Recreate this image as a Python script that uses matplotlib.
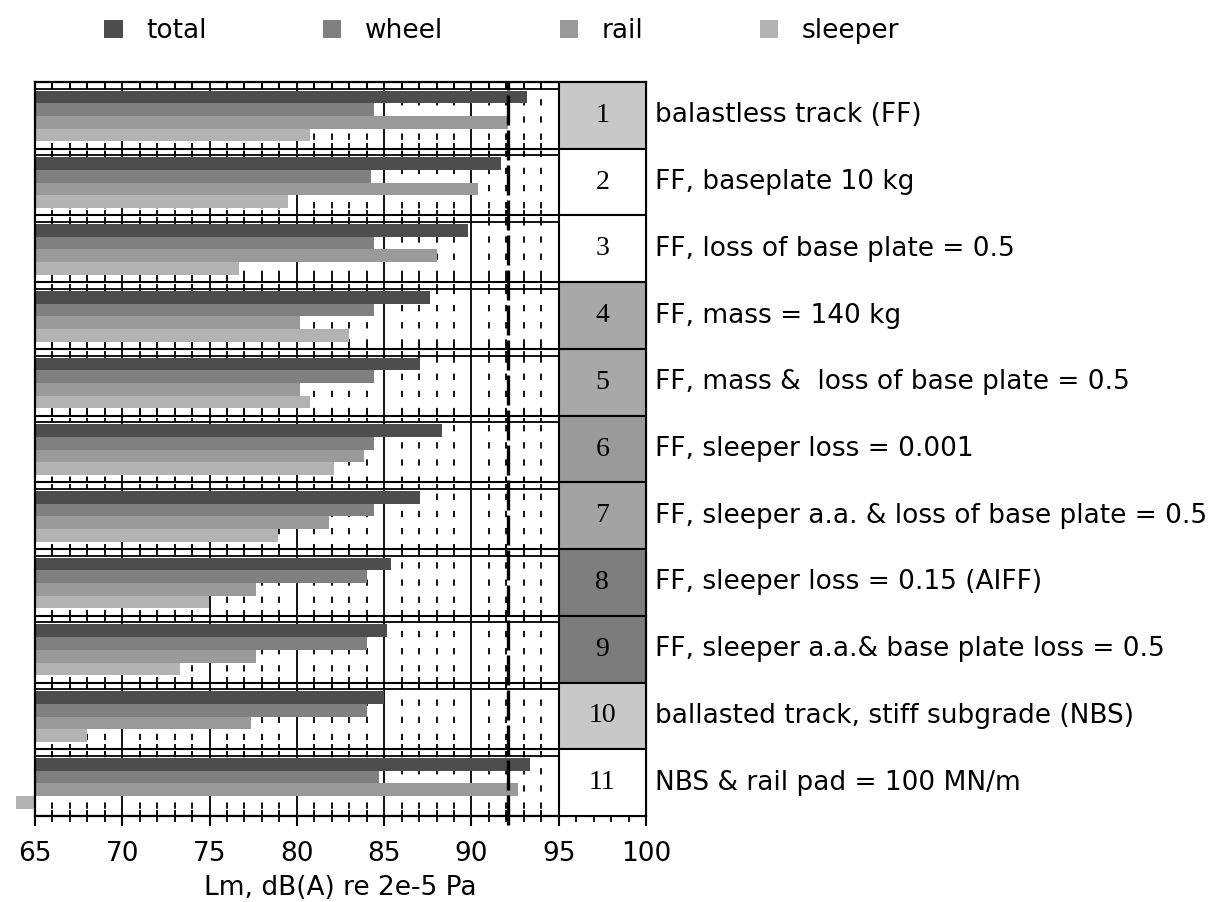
import matplotlib.pyplot as plt
import numpy as np
from matplotlib.patches import Patch

# noise levels per track variant, dB(A)
variants = [
    "balastless track (FF)",
    "FF, baseplate 10 kg",
    "FF, loss of base plate = 0.5",
    "FF, mass = 140 kg",
    "FF, mass &  loss of base plate = 0.5",
    "FF, sleeper loss = 0.001",
    "FF, sleeper a.a. & loss of base plate = 0.5",
    "FF, sleeper loss = 0.15 (AIFF)",
    "FF, sleeper a.a.& base plate loss = 0.5",
    "ballasted track, stiff subgrade (NBS)",
    "NBS & rail pad = 100 MN/m",
]
numbers = [str(i) for i in range(1, 12)]
total = [93.2, 91.7, 89.8, 87.6, 87.05, 88.3, 87.05, 85.4, 85.15, 85.0, 93.35]
wheel = [84.4, 84.25, 84.4, 84.4, 84.4, 84.4, 84.4, 84.0, 84.0, 84.0, 84.7]
rail = [92.1, 90.4, 88.0, 80.2, 80.2, 83.85, 81.85, 77.65, 77.65, 77.4, 92.65]
sleeper = [80.75, 79.5, 76.7, 83.0, 80.75, 82.1, 78.9, 74.95, 73.3, 68.0, 63.9]
box_shades = ["#c8c8c8", "white", "white", "#a8a8a8", "#a8a8a8", "#9a9a9a",
              "#a3a3a3", "#7e7e7e", "#7c7c7c", "#c8c8c8", "white"]
limit = 92.1

series = [("total", total, "#4d4d4d"),
          ("wheel", wheel, "#808080"),
          ("rail", rail, "#9a9a9a"),
          ("sleeper", sleeper, "#b3b3b3")]

plt.rcParams["font.family"] = ["DejaVu Sans"]

fig = plt.figure(figsize=(12.12, 9.02), dpi=100)
ax = fig.add_axes([35 / 1212, 1 - 816 / 902, 611 / 1212, 734 / 902])

xmin, xmax, split = 65, 100, 95
n = len(variants)
rows = np.arange(n)

ax.set_xlim(xmin, xmax)
ax.set_ylim(n, 0)

# grid: solid every 5, dashed every 1
minor = [x for x in range(xmin + 1, split) if x % 5]
ax.vlines(range(70, split, 5), 0, n, color="black", lw=1.3, zorder=1)
ax.vlines(minor, 0, n, color="black", lw=1.3, linestyles=(0, (3.5, 6.0)), zorder=1)

# per-group frame lines with small ticks
ax.hlines(np.arange(n + 1), xmin, xmax, color="black", lw=1.5, zorder=1)
ax.hlines(rows + 0.1, xmin, split, color="black", lw=1.3, zorder=1)
for g in rows:
    ax.vlines(minor, g + 0.03, g + 0.1, color="black", lw=1.3, zorder=1)
    ax.vlines(minor, g + 0.92, g + 1.0, color="black", lw=1.3, zorder=1)

# bars
h = 0.19
for k, (name, vals, col) in enumerate(series):
    ys = rows + 0.13 + h * (k + 0.5)
    widths = np.array(vals) - xmin
    bars = ax.barh(ys, widths, left=xmin, height=h, color=col, lw=0, zorder=2)
    for b in bars:
        b.set_clip_on(False)

ax.axvline(limit, ymin=-0.012, ymax=1, color="black", lw=2.4,
           linestyle=(0, (9, 1.5)), zorder=4, clip_on=False)

# numbered cells
ax.barh(rows + 0.5, xmax - split, left=split, height=1.0, color=box_shades,
        edgecolor="black", lw=1.5, zorder=3)
for g in rows:
    ax.text((split + xmax) / 2, g + 0.5, numbers[g], ha="center", va="center",
            fontsize=20, family="Liberation Serif", zorder=5)
    ax.text(xmax + 0.5, g + 0.5, variants[g], ha="left", va="center",
            fontsize=19, clip_on=False)

# axes styling
for s in ax.spines.values():
    s.set_linewidth(1.6)
ax.set_yticks([])
ax.set_xticks(range(xmin, xmax + 1, 5))
ax.set_xticks(minor + list(range(split + 1, xmax)), minor=True)
ax.tick_params(axis="x", which="major", direction="out", length=7, width=1.5,
               labelsize=19, pad=11)
ax.tick_params(axis="x", which="minor", direction="inout", length=8, width=1.3)
ax.set_xlabel("Lm, dB(A) re 2e-5 Pa", fontsize=19, labelpad=6)

handles = [Patch(facecolor=c, edgecolor="none", label=nm) for nm, _, c in series]
fig.legend(handles=handles, loc="center", bbox_to_anchor=(0.414, 1 - 31 / 902),
           ncol=4, frameon=False, fontsize=19, handlelength=0.7,
           handleheight=0.7, handletextpad=0.9, columnspacing=4.4)

fig.savefig("out.png", dpi=100)
